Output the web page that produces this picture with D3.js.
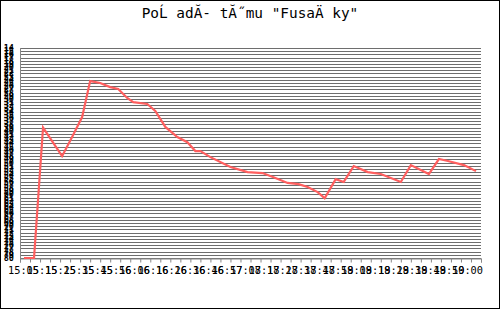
<!DOCTYPE html>
<html>
<head>
<meta charset="utf-8">
<script src="https://cdn.jsdelivr.net/npm/d3@7"></script>
<style>
  body { margin: 0; background: #fff; }
  svg { display: block; }
</style>
</head>
<body>
<div id="chart"></div>
<script>
// minutes after 15:05 and rank at that moment
var minutes = [2, 7, 11.5, 21, 26, 31, 35, 40, 45, 49, 53.5, 56.5, 63.5, 67.5, 72.5, 78.5, 83.5, 87.5, 90, 95,
               105, 113.5, 121, 126.5, 133.5, 139, 143.5, 148.5, 152, 157.5, 161.5, 166.5, 173.5, 180, 190, 195,
               204, 209, 213.5, 221.5, 227.5];
var ranks = [80, 80, 39, 48, 42, 35.7, 24.4, 25, 26.3, 26.9, 29.7, 31, 31.6, 33.8, 38.8, 42, 43.6, 46.4, 46.4, 48.3,
             51.4, 53, 53.3, 54.6, 56.4, 56.8, 57.7, 59.3, 61.2, 55.2, 56.1, 51.1, 53, 53.6, 56.1, 50.8,
             53.6, 48.9, 49.5, 50.8, 52.7];

var timeLabels = ["15:05", "15:15", "15:25", "15:35", "15:45", "15:56", "16:06", "16:16", "16:26", "16:36",
                  "16:46", "16:57", "17:08", "17:18", "17:28", "17:38", "17:48", "17:59", "18:09", "18:19",
                  "18:29", "18:39", "18:49", "18:50", "19:00"];
var rankTicks = d3.range(14, 81);

var title = 'PoĹ adĂ- tĂ˝mu "FusaÄ ky"';

var margin = {top: 48, bottom: 51, left: 20, right: 19};
var width = 500 - margin.left - margin.right,
    height = 309 - margin.top - margin.bottom;

var svg = d3.select('#chart')
    .append('svg')
        .attr('width', 500)
        .attr('height', 309);

// outer frame
svg.append('rect')
    .attr('x', 0.5).attr('y', 0.5)
    .attr('width', 499).attr('height', 308)
    .attr('fill', '#fff')
    .attr('stroke', '#000');

svg.append('text')
    .attr('x', 250)
    .attr('y', 18)
    .attr('text-anchor', 'middle')
    .style('font-family', 'DejaVu Sans Mono, monospace')
    .style('font-size', '14.4px')
    .text(title);

var g = svg.append('g')
    .attr('transform', 'translate(' + margin.left + ',' + margin.top + ')');

var x = d3.scaleLinear().domain([0, 230]).range([0, width]);
var y = d3.scaleLinear().domain([14, 80]).range([0, height]);
var xl = d3.scalePoint().domain(timeLabels).range([3.5, 447.5]);

// one grey line per rank
g.append('g').selectAll('line')
    .data(rankTicks)
    .enter().append('line')
    .attr('x1', 0)
    .attr('x2', width)
    .attr('y1', function(d) { return Math.round(y(d)) + 0.5; })
    .attr('y2', function(d) { return Math.round(y(d)) + 0.5; })
    .attr('stroke', '#6e6e6e')
    .attr('stroke-width', 1);

// the y labels are crammed together, just like the original
g.append('g').selectAll('text')
    .data(rankTicks)
    .enter().append('text')
    .attr('x', -6)
    .attr('y', function(d) { return y(d) + 3; })
    .attr('text-anchor', 'end')
    .style('font-family', 'DejaVu Sans Mono, monospace')
    .style('font-size', '8.5px')
    .style('font-weight', 'bold')
    .text(function(d) { return d; });

g.append('line')
    .attr('x1', 0.5).attr('x2', 0.5)
    .attr('y1', 0).attr('y2', height + 4)
    .attr('stroke', '#888');

var xAxis = d3.axisBottom(x).ticks(50).tickSize(4).tickFormat('');
var ax = g.append('g')
    .attr('transform', 'translate(0,' + (Math.round(height) + 0.5) + ')')
    .call(xAxis);
ax.select('.domain').attr('stroke', '#888');
ax.selectAll('.tick line').attr('stroke', '#888');

g.append('g').selectAll('text')
    .data(timeLabels)
    .enter().append('text')
    .attr('x', function(d) { return xl(d); })
    .attr('y', height + 16)
    .attr('text-anchor', 'middle')
    .style('font-family', 'DejaVu Sans Mono, monospace')
    .style('font-size', '10.3px')
    .text(function(d) { return d; });

var line = d3.line()
    .x(function(d) { return x(d[0]); })
    .y(function(d) { return y(d[1]); });

g.append('path')
    .datum(d3.zip(minutes, ranks))
    .attr('d', line)
    .attr('fill', 'none')
    .attr('stroke', '#ff5f5f')
    .attr('stroke-width', 2.2);
</script>
</body>
</html>
